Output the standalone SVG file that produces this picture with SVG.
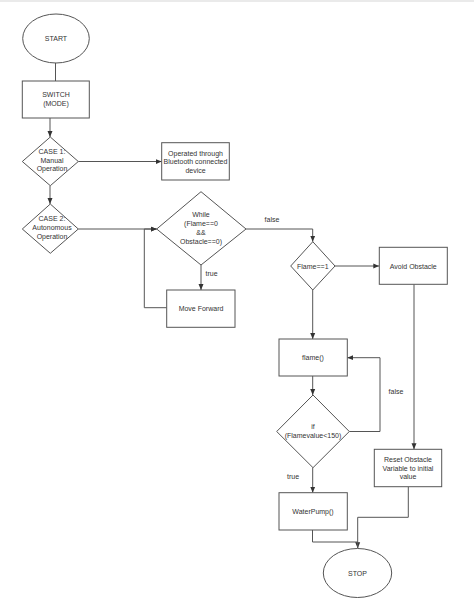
<svg xmlns="http://www.w3.org/2000/svg" width="474" height="610" viewBox="0 0 474 610">
<style>
.s{fill:#fff;stroke:#555;stroke-width:1}
.c{fill:none;stroke:#555;stroke-width:1}
text{font-family:"Liberation Sans",Arial,sans-serif;font-size:7px;fill:#333;text-anchor:middle}
</style>
<defs>
<marker id="a" viewBox="0 0 6 6" refX="6" refY="3" markerWidth="6" markerHeight="6" orient="auto" markerUnits="userSpaceOnUse">
<path d="M0,0.5 L6,3 L0,5.5 Z" fill="#333"/>
</marker>
</defs>
<rect width="474" height="610" fill="#fff"/>
<rect width="474" height="2" fill="#eaeaea"/>
<g id="connectors">
<path class="c" d="M55.5,63 V81"/>
<path class="c" d="M50,118 V137" marker-end="url(#a)"/>
<path class="c" d="M78.3,161.5 H161.7" marker-end="url(#a)"/>
<path class="c" d="M50,185.7 V204" marker-end="url(#a)"/>
<path class="c" d="M78.3,229 H156.7" marker-end="url(#a)"/>
<path class="c" d="M166.7,307.7 H144.3 V229 H156.7" marker-end="url(#a)"/>
<path class="c" d="M201,265 V290" marker-end="url(#a)"/>
<path class="c" d="M246,229 H312.7 V241.7" marker-end="url(#a)"/>
<path class="c" d="M335,266 H379.3" marker-end="url(#a)"/>
<path class="c" d="M312.7,290 V339" marker-end="url(#a)"/>
<path class="c" d="M312.7,376 V395" marker-end="url(#a)"/>
<path class="c" d="M349.3,431.5 H380 V357.7 H347.3" marker-end="url(#a)"/>
<path class="c" d="M414,284.3 V449.3" marker-end="url(#a)"/>
<path class="c" d="M312.7,467.7 V492.7" marker-end="url(#a)"/>
<path class="c" d="M312.5,530 V542 H357.7 V548.3" marker-end="url(#a)"/>
<path class="c" d="M408.3,486.7 V517.3 H357.7 V548.3"/>
<text x="272" y="221.5">false</text>
<text x="211.5" y="276">true</text>
<text x="396" y="394">false</text>
<text x="293" y="479">true</text>
</g>
<g id="start">
<ellipse class="s" cx="56" cy="38.5" rx="33.3" ry="24.5"/>
<text x="56" y="41">START</text>
</g>
<g id="switch">
<rect class="s" x="22.3" y="81" width="67" height="37"/>
<text x="56" y="97">SWITCH</text>
<text x="56" y="106">(MODE)</text>
</g>
<g id="case1">
<path class="s" d="M50.3,137 L78.3,161.5 L50.3,185.7 L22.3,161.5 Z"/>
<text x="52" y="154">CASE 1:</text>
<text x="52" y="162.5">Manual</text>
<text x="52" y="171">Operation</text>
</g>
<g id="bluetooth">
<rect class="s" x="161.7" y="142.7" width="67.6" height="37.3"/>
<text x="195.5" y="155.5">Operated through</text>
<text x="195.5" y="164">Bluetooth connected</text>
<text x="195.5" y="172.5">device</text>
</g>
<g id="case2">
<path class="s" d="M50.3,204 L78.3,229 L50.3,253.3 L22.3,229 Z"/>
<text x="52" y="220.5">CASE 2:</text>
<text x="52" y="229.5">Autonomous</text>
<text x="52" y="238.5">Operation</text>
</g>
<g id="while">
<path class="s" d="M201,191.7 L246,229 L201,265 L156.7,229 Z"/>
<text x="201" y="216.5">While</text>
<text x="201" y="225.5">(Flame==0</text>
<text x="201" y="234.5">&amp;&amp;</text>
<text x="201" y="243.5">Obstacle==0)</text>
</g>
<g id="moveforward">
<rect class="s" x="166.7" y="290" width="68.3" height="37.3"/>
<text x="201" y="311">Move Forward</text>
</g>
<g id="flame1">
<path class="s" d="M312.8,241.7 L335,266 L312.8,290 L290.7,266 Z"/>
<text x="312.8" y="268.5">Flame==1</text>
</g>
<g id="avoid">
<rect class="s" x="379.3" y="247.3" width="68" height="37"/>
<text x="413.3" y="268.5">Avoid Obstacle</text>
</g>
<g id="flamefn">
<rect class="s" x="279" y="339" width="68.3" height="37"/>
<text x="313" y="360">flame()</text>
</g>
<g id="ifflame">
<path class="s" d="M313,395 L349.3,431.5 L313,467.7 L276.7,431.5 Z"/>
<text x="313" y="429">if</text>
<text x="313" y="437.5">(Flamevalue&lt;150)</text>
</g>
<g id="reset">
<rect class="s" x="374.3" y="449.3" width="67.4" height="37.4"/>
<text x="408" y="461.5">Reset Obstacle</text>
<text x="408" y="470.5">Variable to initial</text>
<text x="408" y="479">value</text>
</g>
<g id="waterpump">
<rect class="s" x="279" y="492.7" width="68.3" height="37.3"/>
<text x="313" y="514">WaterPump()</text>
</g>
<g id="stop">
<ellipse class="s" cx="357.5" cy="573" rx="34.2" ry="24.5"/>
<text x="357.5" y="575.5">STOP</text>
</g>
</svg>
